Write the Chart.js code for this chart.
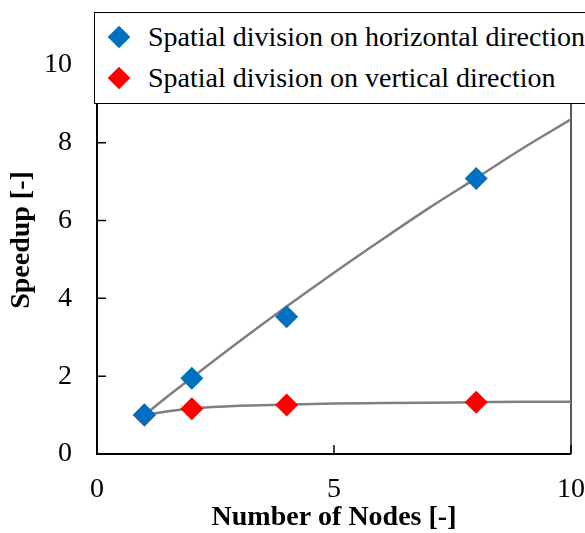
<!DOCTYPE html>
<html>
<head>
<meta charset="utf-8">
<script src="https://cdn.jsdelivr.net/npm/chart.js"></script>
<style>
  body { margin: 0; background: #fff; overflow: hidden; }
  #wrap { position: relative; width: 585px; height: 533px; overflow: hidden; }
  #legend {
    position: absolute; left: 94px; top: 12px; width: 540px; height: 90px;
    border: 1.5px solid #000; background: #fff;
    font-family: "Liberation Serif", "DejaVu Serif"; font-size: 28px; color: #000;
  }
  .row { position: absolute; left: 53px; height: 40px; line-height: 40px; white-space: nowrap; }
  .dia { position: absolute; left: 16px; width: 16px; height: 16px; transform: rotate(45deg); }
</style>
</head>
<body>
<div id="wrap">
  <canvas id="speedup" width="585" height="533"></canvas>
  <div id="legend"></div>
</div>

<script>
// dữ liệu
const nodes = [1, 2, 4, 8];
const speedHorizontal = [1.0, 1.95, 3.53, 7.08];
const speedVertical = [1.0, 1.16, 1.26, 1.33];

// đường xu hướng (màu xám)
const curveNodes = [1, 1.5, 2, 3, 4, 5, 6, 7, 8, 9, 10];
const curveHorizontal = [1.0, 1.49, 1.96, 2.89, 3.79, 4.66, 5.50, 6.32, 7.09, 7.87, 8.60];
const curveVertical = [1.0, 1.10, 1.17, 1.24, 1.27, 1.30, 1.31, 1.32, 1.33, 1.34, 1.345];

const xTicks = [0, 5, 10];
const yTicks = [0, 2, 4, 6, 8, 10];

const seriesNames = ['Spatial division on horizontal direction', 'Spatial division on vertical direction'];
const seriesColors = ['#0070C0', '#FF0000'];

const toPoints = (xs, ys) => xs.map((v, i) => ({ x: v, y: ys[i] }));
const serif = '"Liberation Serif", "DejaVu Serif"';

// chú thích
let legend = document.getElementById('legend');
seriesNames.forEach((name, i) => {
    let top = i === 0 ? 4 : 45;
    legend.innerHTML +=
        '<div class="dia" style="top:' + (top + 12) + 'px;background:' + seriesColors[i] + '"></div>' +
        '<div class="row" style="top:' + top + 'px">' + name + '</div>';
});

// khung và vạch chia hướng vào trong
const frame = {
    id: 'frame',
    beforeDatasetsDraw(chart) {
        const { ctx, chartArea: a, scales: { x, y } } = chart;
        ctx.save();
        ctx.lineWidth = 2;
        ctx.strokeStyle = '#595959';
        ctx.beginPath();
        ctx.moveTo(a.left, a.top);
        ctx.lineTo(a.right, a.top);
        ctx.lineTo(a.right, a.bottom);
        ctx.stroke();
        ctx.strokeStyle = '#000';
        ctx.beginPath();
        ctx.moveTo(a.left, a.top);
        ctx.lineTo(a.left, a.bottom);
        ctx.lineTo(a.right, a.bottom);
        ctx.stroke();
        ctx.lineWidth = 1.5;
        ctx.beginPath();
        y.ticks.forEach(t => {
            let py = y.getPixelForValue(t.value);
            ctx.moveTo(a.left, py);
            ctx.lineTo(a.left + 9, py);
        });
        x.ticks.forEach(t => {
            let px = x.getPixelForValue(t.value);
            ctx.moveTo(px, a.bottom);
            ctx.lineTo(px, a.bottom - 9);
        });
        ctx.stroke();
        ctx.restore();
    }
};

let ctx = document.getElementById('speedup').getContext('2d');
let myChart = new Chart(ctx, {
    type: 'scatter',
    data: {
        datasets: [{
            label: seriesNames[0],
            data: toPoints(nodes, speedHorizontal),
            pointStyle: 'rectRot',
            pointRadius: 11.5,
            pointHoverRadius: 11.5,
            pointBorderWidth: 0,
            backgroundColor: seriesColors[0],
            borderColor: seriesColors[0],
            order: 0
        }, {
            label: seriesNames[1],
            data: toPoints(nodes, speedVertical),
            pointStyle: 'rectRot',
            pointRadius: 11.5,
            pointHoverRadius: 11.5,
            pointBorderWidth: 0,
            backgroundColor: seriesColors[1],
            borderColor: seriesColors[1],
            order: 0
        }, {
            label: 'trend horizontal',
            data: toPoints(curveNodes, curveHorizontal),
            showLine: true,
            borderColor: '#7F7F7F',
            borderWidth: 2.5,
            pointRadius: 0,
            cubicInterpolationMode: 'monotone',
            order: 1
        }, {
            label: 'trend vertical',
            data: toPoints(curveNodes, curveVertical),
            showLine: true,
            borderColor: '#7F7F7F',
            borderWidth: 2.5,
            pointRadius: 0,
            cubicInterpolationMode: 'monotone',
            order: 1
        }]
    },
    options: {
        responsive: false,
        animation: false,
        layout: { padding: { left: 0, right: 14, top: 26, bottom: 0 } },
        plugins: { legend: { display: false }, tooltip: { enabled: false } },
        scales: {
            x: {
                type: 'linear',
                min: 0,
                max: 10,
                afterBuildTicks: s => { s.ticks = xTicks.map(v => ({ value: v })); },
                afterFit: s => { s.height = 79; s.paddingLeft = 0; s.paddingRight = 0; },
                grid: { display: false, drawTicks: false },
                border: { display: false },
                ticks: { padding: 19, color: '#000', font: { family: serif, size: 28 } },
                title: {
                    display: true,
                    text: 'Number of Nodes [-]',
                    color: '#000',
                    padding: { top: 0, bottom: 1.5 },
                    font: { family: serif, size: 28, weight: 'bold', lineHeight: 1 }
                }
            },
            y: {
                type: 'linear',
                min: 0,
                max: 11,
                afterBuildTicks: s => { s.ticks = yTicks.map(v => ({ value: v })); },
                afterFit: s => { s.width = 97; s.paddingTop = 0; s.paddingBottom = 0; },
                grid: { display: false, drawTicks: false },
                border: { display: false },
                ticks: { padding: 25, color: '#000', font: { family: serif, size: 28 } },
                title: {
                    display: true,
                    text: 'Speedup [-]',
                    color: '#000',
                    padding: { top: 7.5, bottom: 0 },
                    font: { family: serif, size: 28, weight: 'bold', lineHeight: 1 }
                }
            }
        }
    },
    plugins: [frame]
});
</script>
</body>
</html>
